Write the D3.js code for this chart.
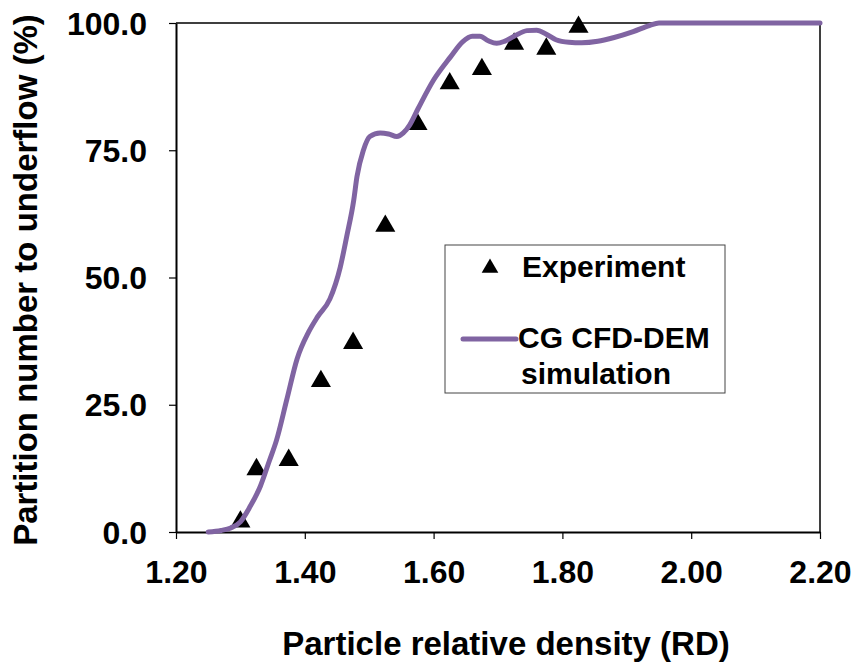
<!DOCTYPE html>
<html>
<head>
<meta charset="utf-8">
<script src="https://cdn.jsdelivr.net/npm/d3@7/dist/d3.min.js"></script>
<style>
  body { margin: 0; background: #fff; }
  svg text { font-family: Arial, "Liberation Sans", sans-serif; font-weight: bold; fill: #000; }
</style>
</head>
<body>
<svg id="chart" width="857" height="671"></svg>
<script>
// ---- data ----
const expRD    = [1.30, 1.325, 1.375, 1.425, 1.475, 1.525, 1.575, 1.625, 1.675, 1.725, 1.775, 1.825];
const expPct   = [2.4, 12.7, 14.5, 30.0, 37.5, 60.5, 80.5, 88.5, 91.3, 96.3, 95.3, 99.6];

const simRD  = [1.250, 1.270, 1.285, 1.300, 1.315, 1.331, 1.345, 1.356, 1.372, 1.388, 1.406, 1.420, 1.439, 1.455, 1.465, 1.476, 1.481, 1.491, 1.501, 1.517, 1.530, 1.543, 1.553, 1.563, 1.576, 1.600, 1.626, 1.645, 1.660, 1.672, 1.685, 1.698, 1.710, 1.725, 1.745, 1.760, 1.775, 1.790, 1.810, 1.830, 1.855, 1.879, 1.910, 1.935, 1.950, 1.980, 2.200];
const simPct = [0.0, 0.3, 0.8, 2.0, 5.0, 9.0, 14.0, 18.0, 26.0, 34.0, 39.3, 42.3, 45.8, 52.0, 58.0, 65.2, 69.8, 75.0, 77.7, 78.4, 78.2, 77.7, 78.4, 80.0, 83.2, 88.8, 93.3, 96.3, 97.4, 97.4, 96.5, 96.0, 96.4, 97.4, 98.5, 98.6, 97.8, 96.7, 96.2, 96.1, 96.4, 97.1, 98.3, 99.5, 100, 100, 100];

const xTicks = [1.20, 1.40, 1.60, 1.80, 2.00, 2.20];
const yTicks = [0, 25, 50, 75, 100];

const xTitle = "Particle relative density (RD)";
const yTitle = "Partition number to underflow (%)";
const legendLabels = ["Experiment", "CG CFD-DEM", "simulation"];

// ---- layout ----
const svg = d3.select("#chart");
const L = 176, R = 820, T = 23, B = 532;
const x = d3.scaleLinear().domain([1.2, 2.2]).range([L, R]);
const y = d3.scaleLinear().domain([0, 100]).range([B, T]);
const purple = "#8064A2";

// frame (top & right)
svg.append("path")
  .attr("d", `M${L},${T}H${R}V${B}`)
  .attr("fill", "none").attr("stroke", "#000").attr("stroke-width", 1.5);

// axes
const xAxis = d3.axisBottom(x).tickValues(xTicks).tickSize(7).tickSizeOuter(0).tickFormat(d3.format(".2f"));
const gx = svg.append("g").attr("transform", `translate(0,${B})`).call(xAxis);
gx.select(".domain").attr("stroke", "#000").attr("stroke-width", 2);
gx.selectAll(".tick line").attr("stroke", "#000").attr("stroke-width", 1.2);
gx.selectAll(".tick text").attr("font-size", 32).attr("font-family", "Arial, 'Liberation Sans', sans-serif")
  .attr("font-weight", "bold").attr("y", 51).attr("dy", 0).attr("fill", "#000");

const yAxis = d3.axisLeft(y).tickValues(yTicks).tickSize(7).tickSizeOuter(0).tickFormat(d3.format(".1f"));
const gy = svg.append("g").attr("transform", `translate(${L},0)`).call(yAxis);
gy.select(".domain").attr("stroke", "#000").attr("stroke-width", 2);
gy.selectAll(".tick line").attr("stroke", "#000").attr("stroke-width", 1.2);
gy.selectAll(".tick text").attr("font-size", 32).attr("font-family", "Arial, 'Liberation Sans', sans-serif")
  .attr("font-weight", "bold").attr("x", -29).attr("dy", 11).attr("fill", "#000");

// experiment markers
const tri = d3.symbol().type(d3.symbolTriangle).size(175);
svg.append("g").selectAll("path").data(expRD.map((d, i) => [d, expPct[i]])).join("path")
  .attr("d", tri)
  .attr("transform", d => `translate(${x(d[0])},${y(d[1]) + 2})`)
  .attr("fill", "#000");

// simulation line
const line = d3.line().x(d => x(d[0])).y(d => y(d[1])).curve(d3.curveMonotoneX);
svg.append("path")
  .datum(simRD.map((d, i) => [d, simPct[i]]))
  .attr("d", line)
  .attr("fill", "none").attr("stroke", purple).attr("stroke-width", 5)
  .attr("stroke-linecap", "round").attr("stroke-linejoin", "round");

// axis titles
svg.append("text").attr("x", 506).attr("y", 655).attr("text-anchor", "middle")
  .attr("font-size", 33).text(xTitle);
svg.append("text").attr("transform", "translate(37,280) rotate(-90)").attr("text-anchor", "middle")
  .attr("font-size", 33).text(yTitle);

// legend
const lg = svg.append("g");
lg.append("rect").attr("x", 445).attr("y", 245).attr("width", 280).attr("height", 148)
  .attr("fill", "#fff").attr("stroke", "#444").attr("stroke-width", 1);
lg.append("path").attr("d", d3.symbol().type(d3.symbolTriangle).size(120))
  .attr("transform", "translate(490,268)").attr("fill", "#000");
lg.append("text").attr("x", 522).attr("y", 277).attr("font-size", 30).text(legendLabels[0]);
lg.append("line").attr("x1", 463).attr("x2", 516).attr("y1", 339).attr("y2", 339)
  .attr("stroke", purple).attr("stroke-width", 5).attr("stroke-linecap", "round");
lg.append("text").attr("x", 518).attr("y", 348).attr("font-size", 30).text(legendLabels[1]);
lg.append("text").attr("x", 521).attr("y", 384).attr("font-size", 30).text(legendLabels[2]);
</script>
</body>
</html>
